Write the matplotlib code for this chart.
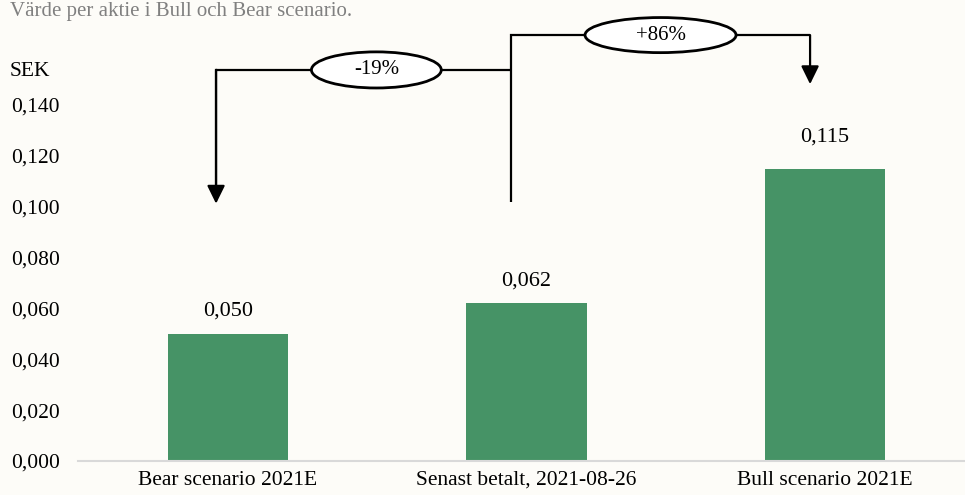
import matplotlib
matplotlib.use("Agg")
import matplotlib.pyplot as plt
from matplotlib.patches import Ellipse

categories = ["Bear scenario 2021E", "Senast betalt, 2021-08-26", "Bull scenario 2021E"]
values = [0.050, 0.062, 0.115]
tick_values = [0.000, 0.020, 0.040, 0.060, 0.080, 0.100, 0.120, 0.140]
tick_labels = ["0,000", "0,020", "0,040", "0,060", "0,080", "0,100", "0,120", "0,140"]
value_labels = ["0,050", "0,062", "0,115"]
change_labels = ["-19%", "+86%"]
title = "Värde per aktie i Bull och Bear scenario."
unit = "SEK"

BG = "#FDFCF8"
BAR = "#469366"
plt.rcParams["font.family"] = ["Liberation Serif", "DejaVu Serif"]

fig = plt.figure(figsize=(9.65, 4.95), dpi=100, facecolor=BG)
W, H = 965, 495
ax = fig.add_axes([78 / W, 34 / H, (W - 78) / W, (H - 34) / H])
ax.set_facecolor(BG)

x = list(range(len(categories)))
ax.bar(x, values, width=0.405, color=BAR, zorder=2)

ax.set_xlim(-0.5025, 2.469)
ax.set_ylim(0, 0.1813)
ax.set_yticks(tick_values)
ax.set_yticklabels(tick_labels, fontsize=15.5)
ax.set_xticks(x)
ax.set_xticklabels(categories, fontsize=15.5)
ax.tick_params(axis="y", length=0, pad=13)
ax.tick_params(axis="x", length=0, pad=7)
for s in ["top", "right", "left"]:
    ax.spines[s].set_visible(False)
ax.spines["bottom"].set_color("#D9D9D9")
ax.spines["bottom"].set_linewidth(1.5)

offsets = [16.5, 16, 23]
for xi, v, lab, off in zip(x, values, value_labels, offsets):
    ax.annotate(lab, (xi, v), xytext=(0, off), textcoords="offset points",
                ha="center", va="center", fontsize=16)

# bracket annotations
lw = 1.6
yl = 0.1538   # left bracket level
yr = 0.1675   # right bracket level
xa = -0.04    # bear arrow x
xm = 0.948    # middle stem x
xb = 1.95     # bull arrow x
ystem = 0.1018
ax.plot([xa, xm], [yl, yl], color="black", lw=lw, solid_capstyle="butt", zorder=3)
ax.plot([xm, xm, xb], [ystem, yr, yr], color="black", lw=lw, solid_capstyle="butt",
        solid_joinstyle="miter", zorder=3)
ax.plot([xa, xa], [yl, 0.108], color="black", lw=lw, zorder=3)

arrow = dict(arrowstyle="-|>,head_length=0.55,head_width=0.27", color="black",
             lw=lw, shrinkA=0, shrinkB=0, mutation_scale=20)
ax.annotate("", xy=(xa, 0.1012), xytext=(xa, yl), arrowprops=arrow, zorder=4)
ax.annotate("", xy=(xb, 0.1482), xytext=(xb, yr), arrowprops=arrow, zorder=4)

e1 = Ellipse((0.497, yl), 0.435, 0.0142, facecolor="white", edgecolor="black", lw=2, zorder=5)
e2 = Ellipse((1.449, yr), 0.506, 0.0138, facecolor="white", edgecolor="black", lw=2, zorder=5)
ax.add_patch(e1)
ax.add_patch(e2)
ax.text(0.497, yl, change_labels[0], ha="center", va="center", fontsize=15, zorder=6)
ax.text(1.449, yr, change_labels[1], ha="center", va="center", fontsize=15, zorder=6)

fig.text(10 / W, 1 - 2 / H, title, ha="left", va="top", fontsize=15, color="#808080")
fig.text(10 / W, 1 - 72 / H, unit, ha="left", va="center", fontsize=15.5)

fig.savefig("out.png", dpi=100, facecolor=BG)
